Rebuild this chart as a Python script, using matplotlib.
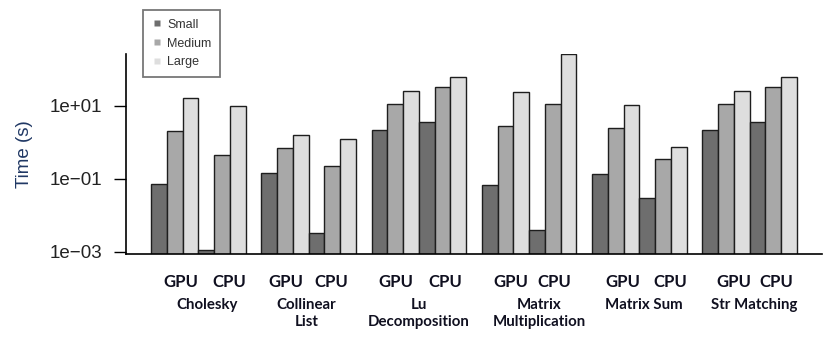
import numpy as np
import matplotlib.pyplot as plt
from matplotlib.lines import Line2D

# values (seconds)
benchmarks = ['Cholesky', 'Collinear\nList', 'Lu\nDecomposition',
              'Matrix\nMultiplication', 'Matrix Sum', 'Str Matching']
devices = ['GPU', 'CPU']
sizes = ['Small', 'Medium', 'Large']

gpu_small = [0.073, 0.146, 2.2, 0.069, 0.14, 2.2]
gpu_medium = [2.07, 0.69, 11.6, 2.76, 2.54, 11.6]
gpu_large = [16.9, 1.6, 26, 23.7, 10.5, 26]
cpu_small = [0.001, 0.0032, 3.6, 0.0038, 0.031, 3.6]
cpu_medium = [0.45, 0.22, 32.5, 11.6, 0.35, 32.5]
cpu_large = [9.8, 1.27, 62, 270, 0.77, 62]

y_ticks = [1e-3, 1e-1, 1e1]
y_ticklabels = ['1e\u221203', '1e\u221201', '1e+01']

colors = ['#6e6e6e', '#a8a8a8', '#dedede']

plt.rcParams['font.family'] = ['Liberation Sans', 'DejaVu Sans']

fig = plt.figure(figsize=(8.3, 3.46), dpi=100)
ax = fig.add_axes([126 / 830, 92 / 346, 696 / 830, 200 / 346])

series = {'GPU': [gpu_small, gpu_medium, gpu_large],
          'CPU': [cpu_small, cpu_medium, cpu_large]}

n = len(benchmarks)
group = np.arange(n) * 7
for d, dev in enumerate(devices):
    for s in range(3):
        x = group + 3 * d + s + 0.5
        ax.bar(x, series[dev][s], width=1.0, bottom=1e-4, color=colors[s],
               edgecolor='#1e1e1e', linewidth=1.0)

ax.set_yscale('log')
ax.set_ylim(10 ** -3.055, 10 ** 2.424)
ax.set_xlim(-1.59, 42.6)
ax.yaxis.set_major_locator(plt.FixedLocator(y_ticks))
ax.yaxis.set_minor_locator(plt.NullLocator())
ax.set_yticklabels(y_ticklabels)
ax.tick_params(axis='y', length=9, width=1, pad=8, labelsize=13.5,
               labelcolor='#222222')
ax.set_xticks([])
for side in ['top', 'right']:
    ax.spines[side].set_visible(False)
ax.spines['left'].set_linewidth(1.2)
ax.spines['bottom'].set_linewidth(1.2)

ax.set_ylabel('Time (s)', fontsize=13.5, color='#203864', labelpad=12)

# hand-placed labels under the groups (pixel shifts as in the original)
gpu_shift = [6.5, 0.7, 1.2, 5, 7.5, 7.7]
cpu_shift = [7.5, -1.2, 3, 2, 7.5, 2.8]
name_shift = [9, -2, 0, 10, 5, 5]
for g in range(n):
    for d, dev in enumerate(devices):
        xc = group[g] + 3 * d + 1.5
        dx = (gpu_shift if d == 0 else cpu_shift)[g] * 0.72
        ax.annotate(dev, xy=(xc, 0), xycoords=('data', 'axes fraction'),
                    xytext=(dx, -20.5), textcoords='offset points',
                    ha='center', va='center', fontsize=12,
                    fontweight='bold', family=['Lato', 'DejaVu Sans'],
                    color='#101020')
    ax.annotate(benchmarks[g], xy=(group[g] + 3, 0),
                xycoords=('data', 'axes fraction'),
                xytext=(name_shift[g] * 0.72, -31.5), textcoords='offset points',
                ha='center', va='top', fontsize=10.8, fontweight='bold',
                family=['Lato', 'DejaVu Sans'], color='#101020',
                linespacing=1.3, multialignment='center')

handles = [Line2D([], [], marker='s', linestyle='none', markersize=5,
                  markerfacecolor=c, markeredgecolor='none') for c in colors]
leg = fig.legend(handles, sizes, loc='upper left',
                 bbox_to_anchor=(143 / 830, 1 - 10 / 346), frameon=True,
                 fancybox=False, fontsize=9, handlelength=0.8,
                 handletextpad=0.45, labelspacing=0.55, borderpad=0.7,
                 borderaxespad=0)
leg.get_frame().set_edgecolor('#555555')
leg.get_frame().set_linewidth(1.3)
for t in leg.get_texts():
    t.set_color('#333333')

fig.savefig('out.png', dpi=100)
